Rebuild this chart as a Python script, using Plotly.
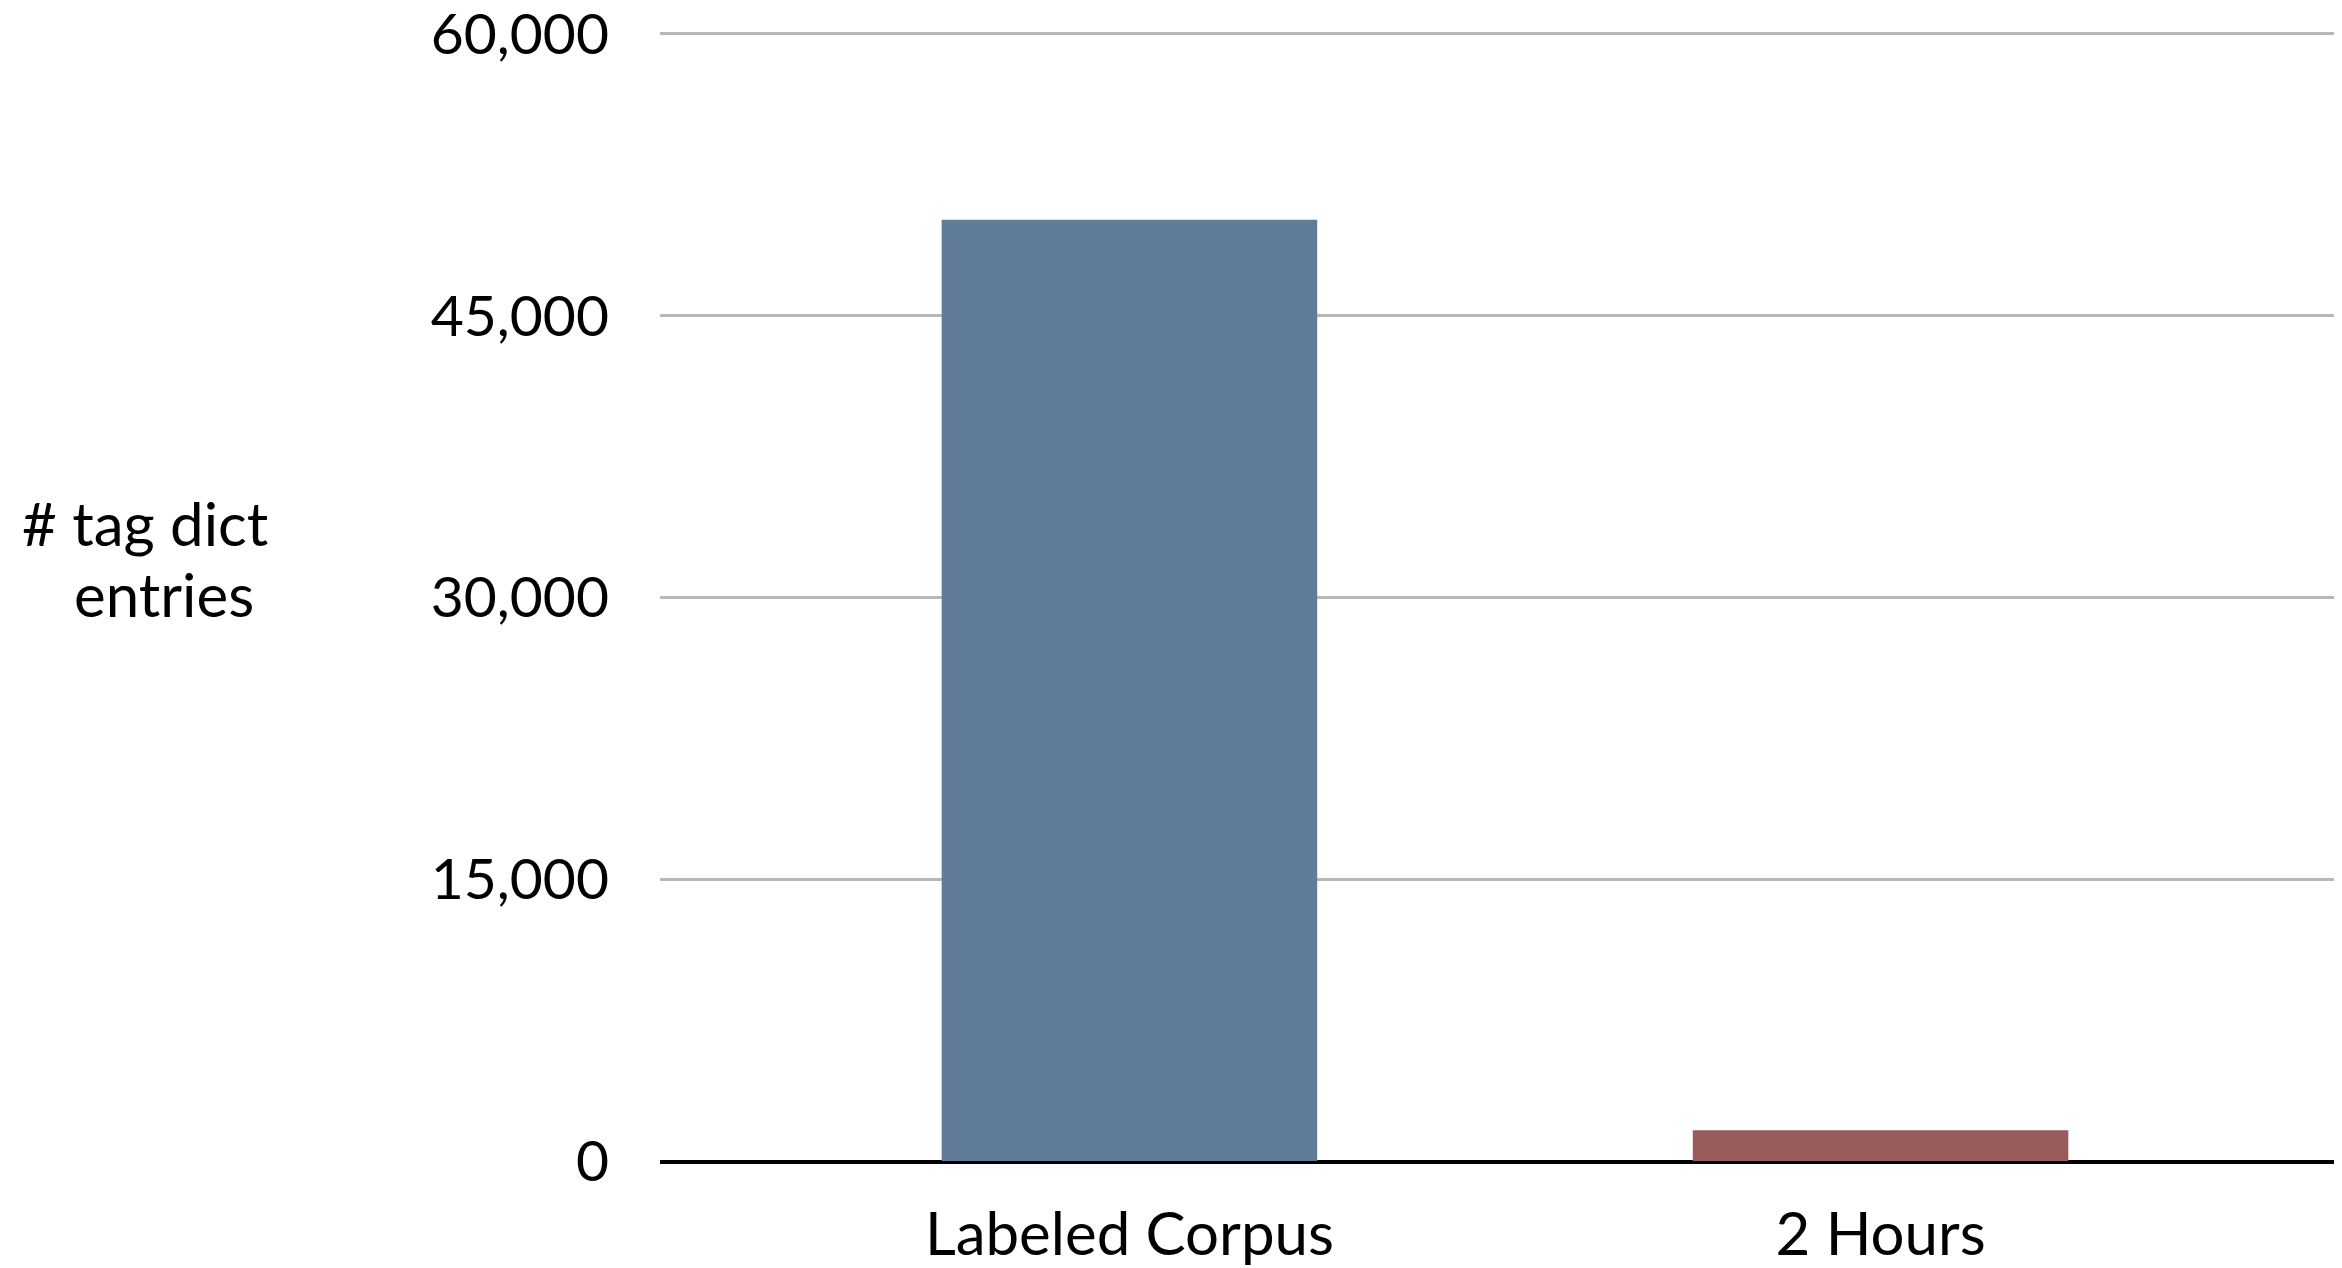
import plotly.graph_objects as go

categories = ["Labeled Corpus", "2 Hours"]
values = [50100, 1640]
bar_colors = ["#617c98", "#985c5c"]
tick_vals = [0, 15000, 30000, 45000, 60000]
tick_text = ["0", "15,000", "30,000", "45,000", "60,000"]
y_title_lines = ["# tag dict", "entries"]

# page body adds an 8px offset; layout is expressed in figure pixels
OFF = 8
W, H = 2342, 1268
L, R, T, B = 660 - OFF, 0, 22, 1268 - (1161 - OFF)
PW = W - L - R
PH = H - T - B

def px_to_paper_x(px):
    return (px - OFF - L) / PW

def px_to_paper_y(py):
    return (H - B - (py - OFF)) / PH

FONT = "Lato"

fig = go.Figure()
fig.add_trace(go.Bar(
    x=[0, 1], y=values, width=0.5,
    marker=dict(color=bar_colors, line=dict(width=0)),
    hoverinfo="skip",
))

fig.update_layout(
    width=W, height=H,
    margin=dict(l=L, r=R, t=T, b=B, pad=0, autoexpand=False),
    paper_bgcolor="white", plot_bgcolor="white",
    showlegend=False,
    font=dict(family=FONT, color="black"),
    xaxis=dict(
        range=[-0.625, 1.625],
        tickvals=[0, 1], ticktext=categories,
        tickfont=dict(family=FONT, size=60, color="black"),
        showgrid=False, zeroline=False,
        showline=True, linecolor="black", linewidth=3,
        ticks="", ticklabelstandoff=19, ticklabeloverflow="allow",
        automargin=False, fixedrange=True,
    ),
    yaxis=dict(
        range=[0, 60200],
        tickvals=tick_vals, ticktext=tick_text,
        tickfont=dict(family=FONT, size=57, color="black"),
        showgrid=True, gridcolor="#b8b8b8", gridwidth=3,
        zeroline=True, zerolinecolor="black", zerolinewidth=3,
        showline=False, ticks="", ticklabelstandoff=50,
        ticklabeloverflow="allow",
        automargin=False, fixedrange=True,
    ),
)

# y-axis title as two horizontal lines of text
fig.add_annotation(
    text=y_title_lines[0], xref="paper", yref="paper",
    x=px_to_paper_x(145), y=px_to_paper_y(523),
    xanchor="center", yanchor="middle", showarrow=False,
    font=dict(family=FONT, size=60, color="black"),
)
fig.add_annotation(
    text=y_title_lines[1], xref="paper", yref="paper",
    x=px_to_paper_x(164), y=px_to_paper_y(594),
    xanchor="center", yanchor="middle", showarrow=False,
    font=dict(family=FONT, size=60, color="black"),
)

fig.write_html("out.html")
